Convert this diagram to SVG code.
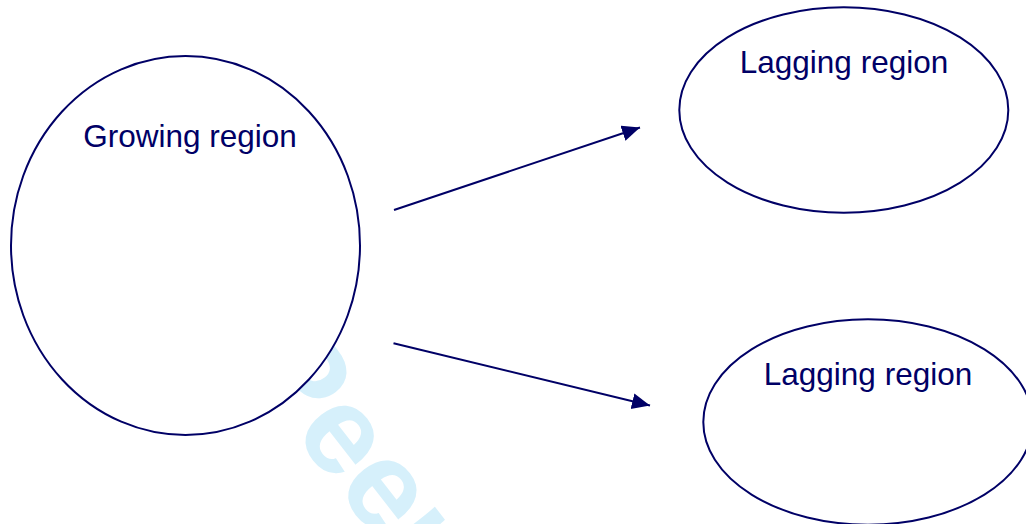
<svg xmlns="http://www.w3.org/2000/svg" width="1026" height="524" viewBox="0 0 1026 524">
<style>
.node ellipse{fill:#ffffff;stroke:#000066;stroke-width:2}
.label{font-family:"Liberation Sans",Arial,sans-serif;font-size:31.5px;fill:#000066;text-anchor:middle}
.conn line{stroke:#000066;stroke-width:2;fill:none}
.wm{font-family:"Liberation Sans",Arial,sans-serif;font-weight:bold;font-size:125px;fill:#d6f0fb}
</style>
<defs>
<marker id="ah" markerUnits="userSpaceOnUse" markerWidth="19" markerHeight="17" refX="18" refY="8" orient="auto">
<path d="M0,0 L18,8 L0,16 z" fill="#000066"/>
</marker>
</defs>
<rect width="1026" height="524" fill="#ffffff"/>
<text class="wm" transform="translate(240.7,365.7) rotate(52)">Peer</text>
<g id="growing" class="node">
<ellipse cx="185.5" cy="245.5" rx="174.5" ry="189.5"/>
<text class="label" x="190" y="147">Growing region</text>
</g>
<g id="lagging-top" class="node">
<ellipse cx="843.8" cy="110" rx="164.5" ry="102.7"/>
<text class="label" x="844" y="72.7">Lagging region</text>
</g>
<g id="lagging-bottom" class="node">
<ellipse cx="868" cy="422" rx="164.7" ry="102.7"/>
<text class="label" x="868" y="385">Lagging region</text>
</g>
<g id="connectors" class="conn">
<line x1="394" y1="210" x2="640" y2="127.5" marker-end="url(#ah)"/>
<line x1="393.5" y1="343.3" x2="650" y2="405.5" marker-end="url(#ah)"/>
</g>
</svg>
